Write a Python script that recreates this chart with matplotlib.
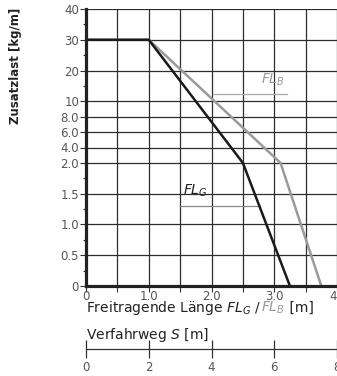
import numpy as np
import matplotlib
matplotlib.use("Agg")
import matplotlib.pyplot as plt
from matplotlib.ticker import FixedLocator, FixedFormatter

plt.rcParams['font.family'] = ['DejaVu Sans']
plt.rcParams['mathtext.fontset'] = 'dejavusans'

# ---- data ----
fl_g_x = [0.0, 1.0, 2.5, 3.25]
fl_g_y = [30, 30, 2.0, 0]
fl_b_x = [0.0, 1.0, 3.1, 3.75]
fl_b_y = [30, 30, 2.0, 0]

y_tick_values = [0, 0.5, 1.0, 1.5, 2.0, 4.0, 6.0, 8.0, 10, 20, 30, 40]
y_tick_labels = ["0", "0.5", "1.0", "1.5", "2.0", "4.0", "6.0", "8.0", "10", "20", "30", "40"]
y_minor_values = [0.25, 0.75, 1.25, 1.75, 15, 25, 35]
x_tick_values = [0, 1, 2, 3, 4]
x_tick_labels = ["0", "1.0", "2.0", "3.0", "4"]
x_grid_values = [0, 0.5, 1, 1.5, 2, 2.5, 3, 3.5, 4]
s_tick_values = [0, 2, 4, 6, 8]
s_tick_labels = ["0", "2", "4", "6", "8"]

# piecewise scale: each tick occupies an index position
scale_idx = [0, 1, 2, 3, 4, 4.5, 5, 5.5, 6, 7, 8, 9]

def fwd(v):
    return np.interp(v, y_tick_values, scale_idx)

def inv(i):
    return np.interp(i, scale_idx, y_tick_values)

W, H = 337, 376
X0, Y0, YT = 86, 286, 9
PXU = (337 - X0) / 4.0
PXI = (Y0 - YT) / 9.0

def px_to_x(px):
    return (px - X0) / PXU

def py_to_y(py):
    return inv((Y0 - py) / PXI)

fig = plt.figure(figsize=(W / 100, H / 100), dpi=100)
ax = fig.add_axes([X0 / W, 1 - Y0 / H, (337 - X0) / W, (Y0 - YT) / H])
ax.set_yscale('function', functions=(fwd, inv))
ax.set_xlim(0, 4)
ax.set_ylim(0, 40)

grid_c = '#2e2e2e'
for xv in x_grid_values[1:]:
    ax.axvline(xv, color=grid_c, lw=0.9, zorder=1)
for yv in y_tick_values[1:]:
    ax.axhline(yv, color=grid_c, lw=0.9, zorder=1)

ax.plot(fl_b_x, fl_b_y, color='#9a9a9a', lw=1.8, zorder=3, solid_joinstyle='miter')
ax.plot(fl_g_x, fl_g_y, color='#1a1a1a', lw=1.8, zorder=4, solid_joinstyle='miter')

for s in ['top', 'right']:
    ax.spines[s].set_visible(False)
for s in ['left', 'bottom']:
    ax.spines[s].set_linewidth(2.3)
    ax.spines[s].set_color('#222222')
    ax.spines[s].set_zorder(5)

ax.yaxis.set_major_locator(FixedLocator(y_tick_values))
ax.yaxis.set_major_formatter(FixedFormatter(y_tick_labels))
ax.yaxis.set_minor_locator(FixedLocator(y_minor_values))
ax.yaxis.set_minor_formatter(FixedFormatter([""] * len(y_minor_values)))
ax.tick_params(axis='y', which='major', length=4, width=0.8, color='#333333',
               labelcolor='#555555', labelsize=8.5, pad=1)
ax.tick_params(axis='y', which='minor', length=2.5, width=0.8, color='#333333')

ax.xaxis.set_major_locator(FixedLocator(x_tick_values))
ax.xaxis.set_major_formatter(FixedFormatter(x_tick_labels))
ax.xaxis.set_minor_locator(FixedLocator([0.5, 1.5, 2.5, 3.5]))
ax.tick_params(axis='x', which='both', length=4, width=0.8, color='#333333',
               labelcolor='#555555', labelsize=8.5, pad=-1)
fig.canvas.draw()
ax.get_xticklabels()[-1].set_horizontalalignment('right')

# curve labels
ax.text(px_to_x(183), py_to_y(195), r"$FL_G$", color='#222222', fontsize=10,
        ha='left', va='baseline', zorder=6)
ax.plot([px_to_x(180), px_to_x(260)], [py_to_y(206)] * 2, color='#888888', lw=0.9, zorder=2)
ax.text(px_to_x(261), py_to_y(84), r"$FL_B$", color='#999999', fontsize=10,
        ha='left', va='baseline', zorder=6)
ax.plot([px_to_x(213), px_to_x(287)], [py_to_y(94)] * 2, color='#aaaaaa', lw=0.9, zorder=2)

# y label
fig.text(15 / W, 1 - 66 / H, "Zusatzlast [kg/m]", rotation=90, ha='center', va='center',
         fontsize=8.5, color='#222222', fontweight='bold')

# x title (mixed colours)
dark = '#222222'
yb = H - 312
t1 = fig.text(X0 / W, yb / H, r"Freitragende Länge $FL_G$ / ", fontsize=10, color=dark,
              ha='left', va='baseline')
t2 = plt.annotate(r"$FL_B$", xy=(1, yb), xycoords=(t1, 'figure pixels'), fontsize=10,
                  color='#999999', ha='left', va='baseline', annotation_clip=False)
t3 = plt.annotate(" [m]", xy=(1, yb), xycoords=(t2, 'figure pixels'), fontsize=10,
                  color=dark, ha='left', va='baseline', annotation_clip=False)

fig.text(X0 / W, (H - 339) / H, r"Verfahrweg $S$ [m]", fontsize=10, color=dark,
         ha='left', va='baseline')

# secondary travel axis
ax2 = fig.add_axes([X0 / W, 1 - 349 / H, (337 - X0) / W, 0.0001])
ax2.set_xlim(0, 8)
ax2.set_ylim(0, 1)
for s in ['top', 'right', 'left']:
    ax2.spines[s].set_visible(False)
ax2.spines['bottom'].set_linewidth(0.9)
ax2.spines['bottom'].set_color('#333333')
ax2.set_yticks([])
ax2.xaxis.set_major_locator(FixedLocator(s_tick_values))
ax2.xaxis.set_major_formatter(FixedFormatter(s_tick_labels))
ax2.tick_params(axis='x', direction='inout', length=13, width=0.9, color='#333333',
                labelcolor='#555555', labelsize=8.5, pad=2)

fig.savefig("out.png", dpi=100)
